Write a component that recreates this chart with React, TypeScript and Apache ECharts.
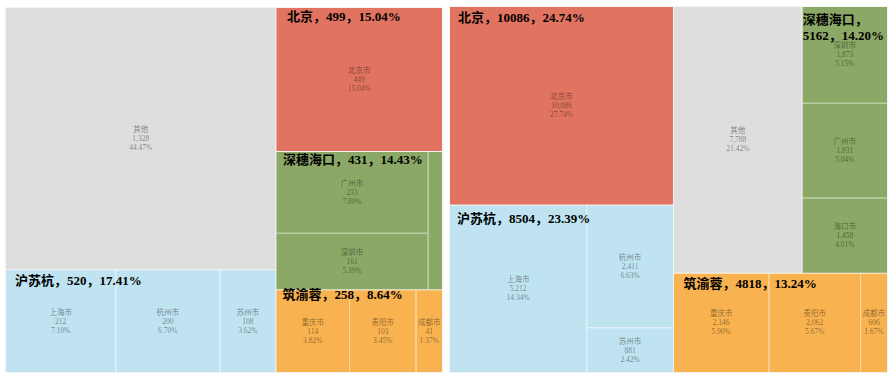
import React, { useEffect, useRef } from 'react';
import * as echarts from 'echarts';

// ---- data ----
const otherName = '其他';
const groupNames = ['北京', '深穗海口', '沪苏杭', '筑渝蓉'];
const groupCities = [
  ['北京市'],
  ['广州市', '深圳市', '海口市'],
  ['上海市', '杭州市', '苏州市'],
  ['重庆市', '贵阳市', '成都市'],
];
const leftOtherValue = 1328;
const leftCityValues = [[449], [233, 161, 37], [212, 200, 108], [114, 103, 41]];
const rightOtherValue = 7788;
const rightCityValues = [[10086], [1831, 1873, 1458], [5212, 2411, 881], [2146, 2062, 606]];
const leftGroupLabels = ['北京，499，15.04%', '深穗海口，431，14.43%', '沪苏杭，520，17.41%', '筑渝蓉，258，8.64%'];
const rightGroupLabels = ['北京，10086，24.74%', '深穗海口，\n5162，14.20%', '沪苏杭，8504，23.39%', '筑渝蓉，4818，13.24%'];
const leftHiddenLeafLabels = ['海口市'];
const rightHiddenLeafLabels: string[] = [];

// ---- styles ----
const otherColor = '#DEDEDE';
const groupColors = ['#E07461', '#8BA866', '#BFE3F1', '#F8B250'];
const groupGapColors = ['#EDA79B', '#B7CB9F', '#E4F3FA', '#FBD49C'];
const leftRect = { left: 5, top: 7, width: 438, height: 366 };
const rightRect = { left: 449, top: 6, width: 439, height: 367 };
const leftLabelPos = [[10.5, 0.5], [6.5, -1], [9, 2], [6, -3.3]];
const rightLabelPos = [[8, 2], [0, 4], [7, 4.7], [9.5, 1.7]];

const sum = (a: number[]) => a.reduce((s, v) => s + v, 0);

function buildSeries(
  rect: any,
  otherValue: number,
  cityValues: number[][],
  groupLabels: string[],
  labelPos: number[][],
  hidden: string[]
) {
  const total = otherValue + sum(cityValues.map(sum));
  const mainData: any[] = [
    { name: otherName, value: otherValue, itemStyle: { color: otherColor } },
    ...groupNames.map((g, i) => ({
      name: g,
      value: sum(cityValues[i]),
      itemStyle: { color: groupColors[i], borderColor: groupGapColors[i] },
      children: groupCities[i].map((c, j) => ({
        name: c,
        value: cityValues[i][j],
        label: hidden.includes(c) ? { show: false } : undefined,
      })),
    })),
  ];
  const overlayData: any[] = [
    { name: otherName, value: otherValue, label: { show: false } },
    ...groupNames.map((g, i) => ({
      name: g,
      value: sum(cityValues[i]),
      label: { show: true, position: labelPos[i], formatter: groupLabels[i] },
    })),
  ];
  const common = {
    type: 'treemap',
    ...rect,
    roam: false,
    nodeClick: false,
    silent: true,
    breadcrumb: { show: false },
    animation: false,
    upperLabel: { show: false },
  };
  const main = {
    ...common,
    label: {
      show: true,
      position: 'inside',
      formatter: (p: any) => {
        const v = Array.isArray(p.value) ? p.value[0] : p.value;
        return `${p.name}\n${Number(v).toLocaleString('en-US')}\n${((v / total) * 100).toFixed(2)}%`;
      },
      fontSize: 7.5,
      lineHeight: 9,
      color: 'rgba(0,0,0,0.45)',
      fontFamily: "'Liberation Serif', 'Noto Sans CJK SC', serif",
      overflow: 'none',
      padding: 0,
    },
    levels: [
      { itemStyle: { borderWidth: 1, gapWidth: 1, borderColor: '#F3F3F3' } },
      { itemStyle: { borderWidth: 0, gapWidth: 1 } },
      { itemStyle: { borderWidth: 0, gapWidth: 0 } },
    ],
    data: mainData,
  };
  const overlay = {
    ...common,
    z: 5,
    label: {
      show: true,
      color: '#000',
      fontSize: 13,
      fontWeight: 'bold',
      lineHeight: 16,
      fontFamily: "'Liberation Serif', 'Noto Sans CJK SC', serif",
      overflow: 'none',
      padding: 0,
    },
    levels: [
      { itemStyle: { borderWidth: 1, gapWidth: 1, borderColor: 'rgba(0,0,0,0)' } },
      { itemStyle: { borderWidth: 0, color: 'rgba(0,0,0,0)', borderColor: 'rgba(0,0,0,0)' } },
    ],
    data: overlayData,
  };
  return [main, overlay];
}

export default function App() {
  const ref = useRef<HTMLDivElement>(null);
  useEffect(() => {
    if (!ref.current) return;
    const chart = echarts.init(ref.current, null, { renderer: 'svg' });
    chart.setOption({
      animation: false,
      backgroundColor: '#fff',
      series: [
        ...buildSeries(leftRect, leftOtherValue, leftCityValues, leftGroupLabels, leftLabelPos, leftHiddenLeafLabels),
        ...buildSeries(rightRect, rightOtherValue, rightCityValues, rightGroupLabels, rightLabelPos, rightHiddenLeafLabels),
      ],
    } as any);
    return () => chart.dispose();
  }, []);
  return (
    <div
      ref={ref}
      style={{ position: 'fixed', left: 0, top: 0, width: 890, height: 376, background: '#fff' }}
    />
  );
}
